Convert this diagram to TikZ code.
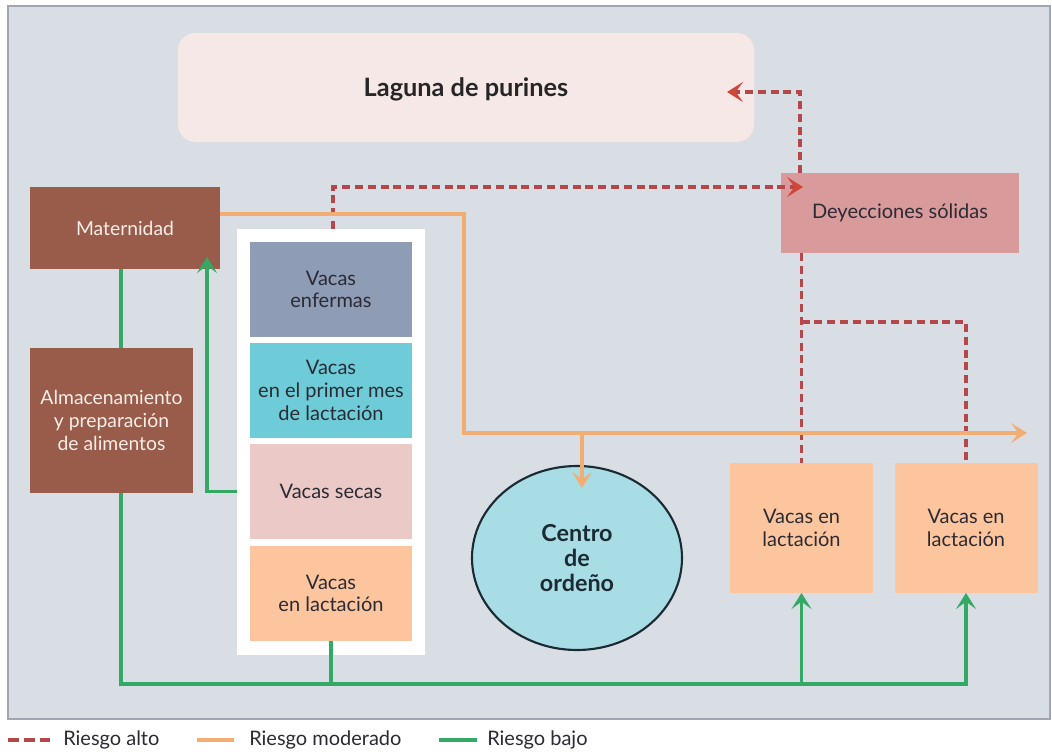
\documentclass[tikz,border=0pt]{standalone}
\usepackage{fontspec}
\setmainfont{Lato}
\usetikzlibrary{arrows.meta,shapes.geometric}
\definecolor{panelfill}{HTML}{D9DDE4}
\definecolor{paneldraw}{HTML}{A0A6B0}
\definecolor{lagfill}{HTML}{F6E8E6}
\definecolor{brown}{HTML}{995C4A}
\definecolor{enffill}{HTML}{8F9CB6}
\definecolor{primfill}{HTML}{6DCCD7}
\definecolor{secfill}{HTML}{EBC9C6}
\definecolor{lacfill}{HTML}{FDC59D}
\definecolor{deyfill}{HTML}{D99A9B}
\definecolor{circfill}{HTML}{A9DDE6}
\definecolor{circdraw}{HTML}{1C2B33}
\definecolor{riskhigh}{HTML}{B5474B}
\definecolor{riskhightip}{HTML}{D0463A}
\definecolor{riskmod}{HTML}{F2AE72}
\definecolor{risklow}{HTML}{34A865}
\definecolor{darktext}{HTML}{2B2B35}
\definecolor{lighttext}{HTML}{F7EEE9}
\begin{document}
\begin{tikzpicture}[x=0.75pt,y=-0.75pt,
  box/.style={rectangle, inner sep=0pt, outer sep=0pt, align=center,
    text=darktext, font=\fontsize{15}{17}\selectfont},
  rdash/.style={draw=riskhigh, line width=2.4pt, dash pattern=on 6pt off 3.6pt},
  omod/.style={draw=riskmod, line width=2.7pt},
  glow/.style={draw=risklow, line width=2.9pt},
  rtip/.style={-{Stealth[length=12pt,width=15pt,inset=5.5pt,color=riskhightip]}},
  otip/.style={-{Stealth[length=12pt,width=15pt,inset=5.5pt]}},
  gtip/.style={-{Stealth[length=12pt,width=15pt,inset=5.5pt]}},
  legtext/.style={anchor=west, inner sep=0pt, text=darktext, font=\fontsize{15}{17}\selectfont}
]
\useasboundingbox (0,0) rectangle (1052,753);
\fill[white] (0,0) rectangle (1052,753);
\draw[fill=panelfill, draw=paneldraw, line width=1.2pt] (8,6) rectangle (1050,719);

% nodes
\node[box, fill=lagfill, rounded corners=13pt, minimum width=432pt, minimum height=81.75pt,
  text height=18pt, text depth=4pt,
  font=\fontsize{19}{22}\selectfont\bfseries, text=black!85] (lag) at (466,87.5) {Laguna de purines};
\node[box, fill=brown, text=lighttext, minimum width=142.5pt, minimum height=61.5pt,
  font=\fontsize{14.5}{17}\selectfont] (mat) at (125,228) {Maternidad};
\node[box, fill=brown, text=lighttext, minimum width=122.25pt, minimum height=108.75pt,
  font=\fontsize{14.5}{17}\selectfont] (alm) at (111.5,420.5) {Almacenamiento\\y preparaci\'on\\de alimentos};
\node[box, fill=white, minimum width=141pt, minimum height=319.5pt] (col) at (331,442) {};
\node[box, fill=enffill, minimum width=121.5pt, minimum height=71.25pt] (enf) at (331,289.5) {Vacas\\enfermas};
\node[box, fill=primfill, minimum width=121.5pt, minimum height=71.25pt] (prim) at (331,390.5) {Vacas\\en el primer mes\\de lactaci\'on};
\node[box, fill=secfill, minimum width=121.5pt, minimum height=71.25pt] (sec) at (331,491.5) {Vacas secas};
\node[box, fill=lacfill, minimum width=121.5pt, minimum height=71.25pt] (lac) at (331,593.5) {Vacas\\en lactaci\'on};
\node[box, fill=deyfill, minimum width=178.5pt, minimum height=60pt] (dey) at (900,213) {Deyecciones s\'olidas};
\node[box, fill=lacfill, minimum width=107.25pt, minimum height=97.5pt] (v1) at (801.5,528) {Vacas en\\lactaci\'on};
\node[box, fill=lacfill, minimum width=107.25pt, minimum height=97.5pt] (v2) at (966,528) {Vacas en\\lactaci\'on};
\node[ellipse, draw=circdraw, line width=1.6pt, fill=circfill, inner sep=0pt, outer sep=0pt,
  minimum width=157.5pt, minimum height=138pt, align=center, text=circdraw,
  font=\fontsize{17.5}{19}\selectfont\bfseries] (cen) at (577,558) {Centro\\de\\orde\~no};

% helper coordinates
\coordinate (r1) at (333,187);
\coordinate (t1) at (803,187);
\coordinate (k2) at (800,92);
\coordinate (t2) at (727,92);
\coordinate (k3) at (0,322);
\coordinate (o1) at (464,214);
\coordinate (o2) at (464,433);
\coordinate (ot) at (1027,433);
\coordinate (ob) at (582,433);
\coordinate (obt) at (582,488);
\coordinate (g1) at (121,0);
\coordinate (gy) at (0,684);
\coordinate (gt) at (207,257);

% high risk
\draw[rdash, rtip] (col.north -| r1) |- (t1);
\draw[rdash, rtip] (dey.north -| k2) |- (t2);
\draw[rdash] (dey.south -| v1.north) -- (v1.north);
\draw[rdash] (v1.north |- k3) -| (v2.north);

% moderate risk
\draw[omod, otip] (mat.east |- o1) -- (o1) -- (o2) -- (ot);
\draw[omod, otip] (ob) -- (obt);

% low risk
\draw[glow] (mat.south -| g1) -- (alm.north -| g1);
\draw[glow, gtip] (alm.south -| g1) |- (v2.south |- gy) -- (v2.south);
\draw[glow, gtip] (v1.south |- gy) -- (v1.south);
\draw[glow] (lac.south) -- (lac.south |- gy);
\draw[glow, gtip] (col.west |- sec.center) -| (gt);

% legend
\coordinate (la1) at (8,740); \coordinate (la2) at (50,740);
\coordinate (lb1) at (197,740); \coordinate (lb2) at (234,740);
\coordinate (lc1) at (439,740); \coordinate (lc2) at (477,740);
\draw[draw=riskhigh, line width=2.4pt, dash pattern=on 8pt off 4pt] (la1) -- (la2);
\draw[omod] (lb1) -- (lb2);
\draw[glow] (lc1) -- (lc2);
\node[legtext] (l1) at (63,740) {Riesgo alto};
\node[legtext] (l2) at (249,740) {Riesgo moderado};
\node[legtext] (l3) at (487,740) {Riesgo bajo};
\end{tikzpicture}
\end{document}
